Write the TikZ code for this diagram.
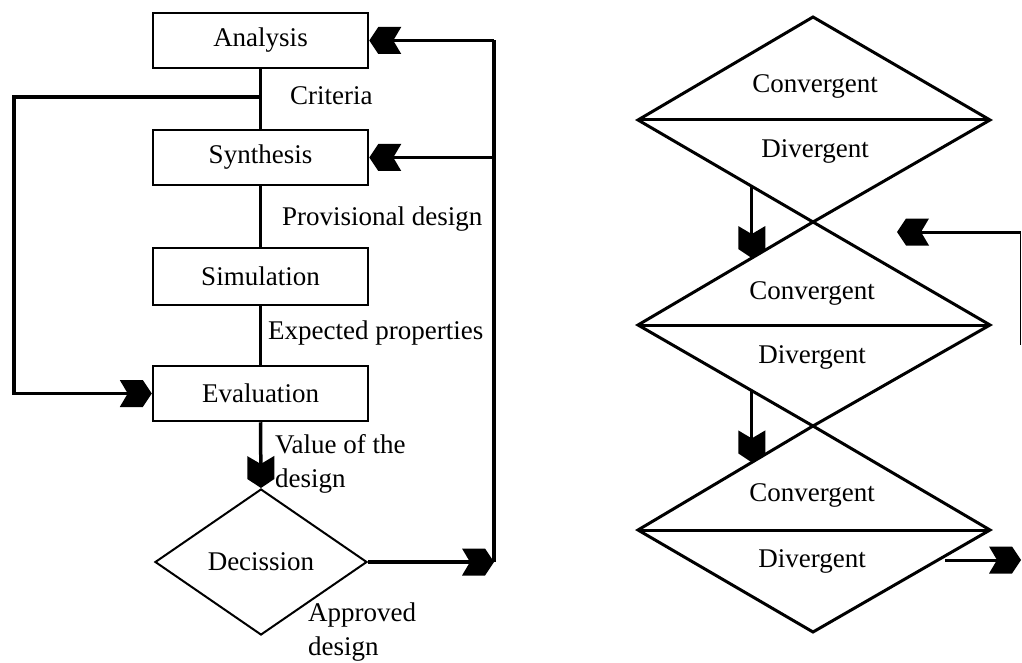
\documentclass[tikz,border=0pt]{standalone}
\usepackage{fontspec}
\setmainfont{Liberation Serif}
\usetikzlibrary{arrows.meta,calc,shapes.geometric}
\pgfdeclarearrow{
  name = Chev,
  setup code = {
    \pgfarrowssettipend{0pt}
    \pgfarrowssetlineend{-20pt}
    \pgfarrowssetbackend{-32pt}
    \pgfarrowssetvisualbackend{-24pt}
  },
  drawing code = {
    \pgfpathmoveto{\pgfpoint{0pt}{0pt}}
    \pgfpathlineto{\pgfpoint{-9pt}{13.5pt}}
    \pgfpathlineto{\pgfpoint{-32pt}{13.5pt}}
    \pgfpathlineto{\pgfpoint{-24pt}{0pt}}
    \pgfpathlineto{\pgfpoint{-32pt}{-13.5pt}}
    \pgfpathlineto{\pgfpoint{-9pt}{-13.5pt}}
    \pgfpathclose
    \pgfusepathqfill
  }
}
\begin{document}
\begin{tikzpicture}[x=1pt,y=-1pt,
  every node/.style={font=\fontsize{27}{34}\selectfont},
  box/.style={draw,line width=2.5pt,minimum width=215pt,minimum height=55pt,inner sep=0pt},
  conn/.style={line width=3.5pt},
  chev/.style={-{Chev}},
  lbl/.style={anchor=west,inner sep=0pt,align=left},
  dia/.style={line width=3pt,line join=miter},
  decshape/.style={draw,diamond,line width=2pt,minimum width=212pt,minimum height=146pt,aspect=1.45,inner sep=0pt}]
\useasboundingbox (0,0) rectangle (1022,663);

% left flow
\node[box] (ana) at (260.5,40.5) {Analysis};
\node[box] (syn) at (260.5,157.5) {Synthesis};
\node[box,minimum height=57pt] (sim) at (260.5,276.5) {Simulation};
\node[box] (eva) at (260.5,393.5) {Evaluation};
\node[decshape] (dec) at (261,562) {Decission};

\draw[conn] (ana.south) -- (syn.north);
\draw[conn] (syn.south) -- (sim.north);
\draw[conn] (sim.south) -- (eva.north);
\draw[conn,chev] (eva.south) -- (dec.north);

\coordinate (crit) at (260.5,97);
\coordinate (lft) at (14,97);
\draw[conn,chev,line join=miter] (crit) -- (lft) |- (eva.west);

\coordinate (fbb) at (494,562);
\coordinate (fbt) at (494,40.5);
\coordinate (fbs) at (494,157.5);
\draw[conn,chev] (dec.east) -- (fbb);
\draw[conn] (fbb) -- (fbt);
\draw[conn,chev] (fbt) -- (ana.east);
\draw[conn,chev] (fbs) -- (syn.east);

\node[lbl] (crt) at (290,96) {Criteria};
\node[lbl] (prov) at (282,219) {Provisional design};
\node[lbl] (expp) at (268,333) {Expected properties};
\node[lbl] (val) at (275,464) {Value of the\\design};
\node[lbl] (appr) at (308,632) {Approved\\design};

% right diamonds
\coordinate (T1) at (813,17);
\coordinate (L1) at (638,120);
\coordinate (R1) at (990,120);
\coordinate (B1) at (813,222);
\coordinate (L2) at (638,325);
\coordinate (R2) at (990,325);
\coordinate (B2) at (813,426);
\coordinate (L3) at (638,530);
\coordinate (R3) at (990,530);
\coordinate (B3) at (813,632);

\draw[dia] (T1) -- (R1) -- (B1) -- (L1) -- cycle;
\draw[dia] (B1) -- (R2) -- (B2) -- (L2) -- cycle;
\draw[dia] (B2) -- (R3) -- (B3) -- (L3) -- cycle;
\draw[dia] (L1) -- (R1);
\draw[dia] (L2) -- (R2);
\draw[dia] (L3) -- (R3);

\node (c1) at (815,86) {Convergent};
\node (d1) at (815,151) {Divergent};
\node (c2) at (812,293) {Convergent};
\node (d2) at (812,357) {Divergent};
\node (c3) at (812,495) {Convergent};
\node (d3) at (812,561) {Divergent};

\coordinate (a1s) at ($(L1)!0.65!(B1)$);
\coordinate (a1e) at ($(L2)!0.65!(B1)$);
\coordinate (a2s) at ($(L2)!0.65!(B2)$);
\coordinate (a2e) at ($(L3)!0.65!(B2)$);
\draw[line width=3pt,chev] (a1s) -- (a1e);
\draw[line width=3pt,chev] (a2s) -- (a2e);

\coordinate (rf) at (1020.5,232);
\coordinate (rfb) at (1020.5,345);
\coordinate (rft) at (897,232);
\draw[line width=1.5pt] (rf) -- (rfb);
\draw[line width=3pt,chev] (rf) -- (rft);

\coordinate (dout) at (945,560);
\coordinate (doutt) at (1021,560);
\draw[line width=3pt,chev] (dout) -- (doutt);
\end{tikzpicture}
\end{document}
